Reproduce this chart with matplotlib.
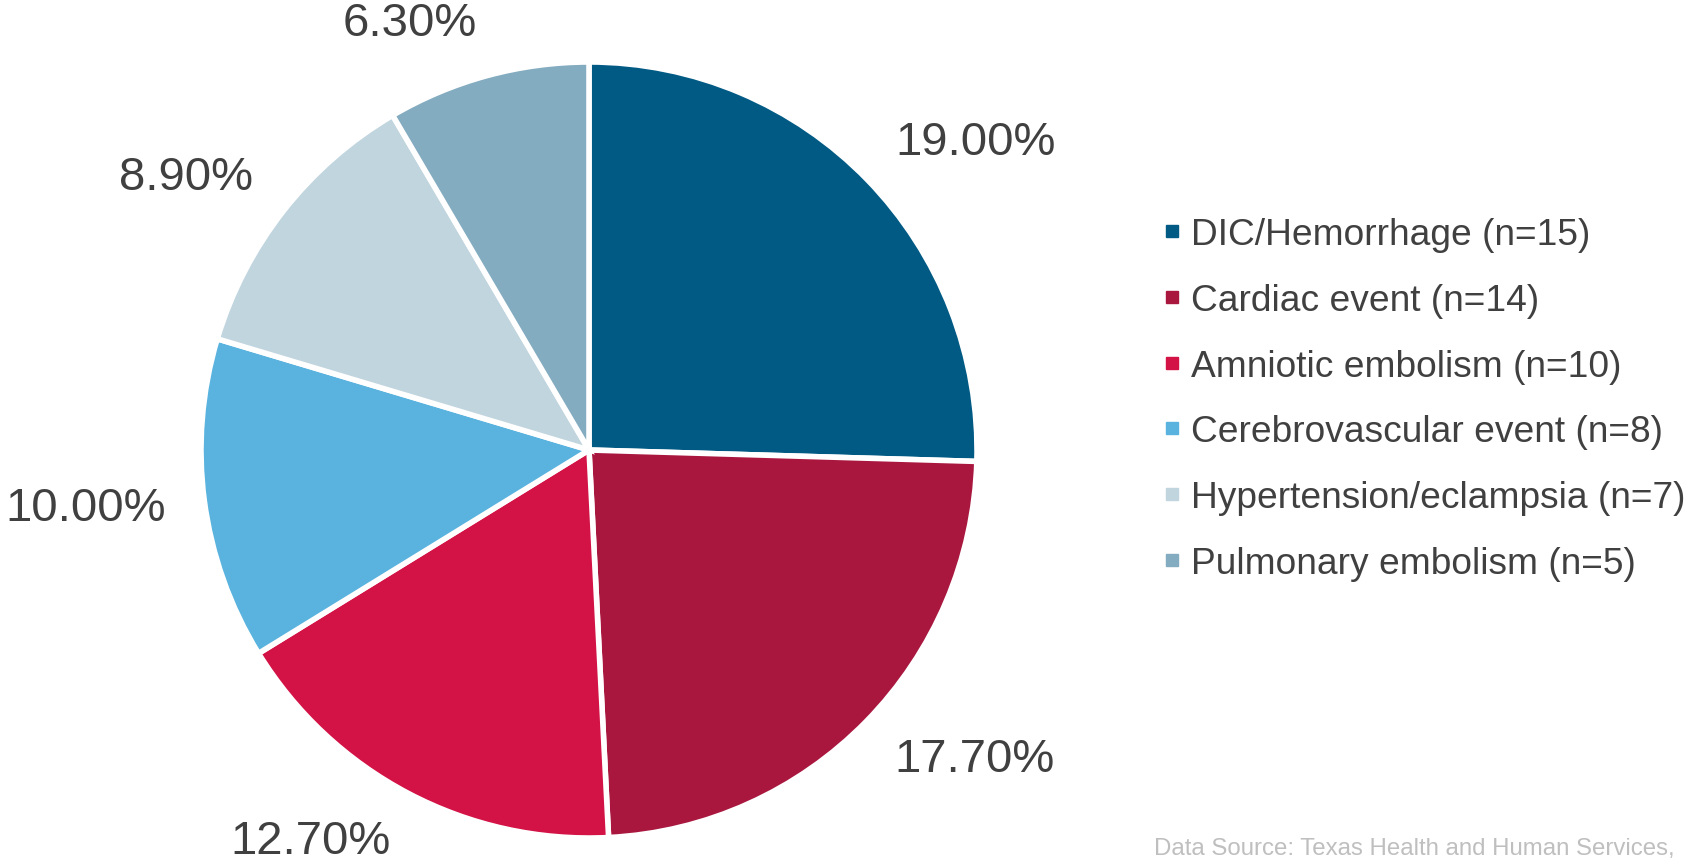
import matplotlib.pyplot as plt
from matplotlib.lines import Line2D

plt.rcParams['font.family'] = ['Liberation Sans', 'DejaVu Sans']

# data
categories = ['DIC/Hemorrhage (n=15)', 'Cardiac event (n=14)', 'Amniotic embolism (n=10)',
              'Cerebrovascular event (n=8)', 'Hypertension/eclampsia (n=7)', 'Pulmonary embolism (n=5)']
percents = [19.00, 17.70, 12.70, 10.00, 8.90, 6.30]
colors = ['#005A84', '#A9173F', '#D31245', '#59B3DE', '#C1D5DF', '#84ACC0']

text_col = '#404040'

fig = plt.figure(figsize=(17.02, 8.62), dpi=100)
size = 970
ax = fig.add_axes([(589 - size / 2) / 1702, (862 - 451 - size / 2) / 862, size / 1702, size / 862])

labels = ['%.2f%%' % p for p in percents]
wedges, texts = ax.pie(percents, colors=colors, labels=labels, startangle=90,
                       counterclock=False, labeldistance=1.10,
                       wedgeprops=dict(edgecolor='white', linewidth=4.0),
                       textprops=dict(fontsize=34, color=text_col))
ax.set_aspect('equal')
# labels sit a bit further out vertically (outside-end placement)
for t in texts:
    x, y = t.get_position()
    t.set_position((x, y * 1.14 / 1.10))

handles = [Line2D([], [], marker='s', linestyle='none', markersize=8,
                  markerfacecolor=c, markeredgecolor=c) for c in colors]
fig.legend(handles, categories, loc='center left', bbox_to_anchor=(0.671, 0.536),
           frameon=False, fontsize=26.7, labelcolor=text_col,
           handlelength=0.6, handletextpad=0.23, labelspacing=0.83, borderpad=0)

fig.text(0.984, 0.008, 'Data Source: Texas Health and Human Services,',
         ha='right', va='baseline', fontsize=17.3, color='#BFBFBF')

fig.savefig('out.png', dpi=100)
